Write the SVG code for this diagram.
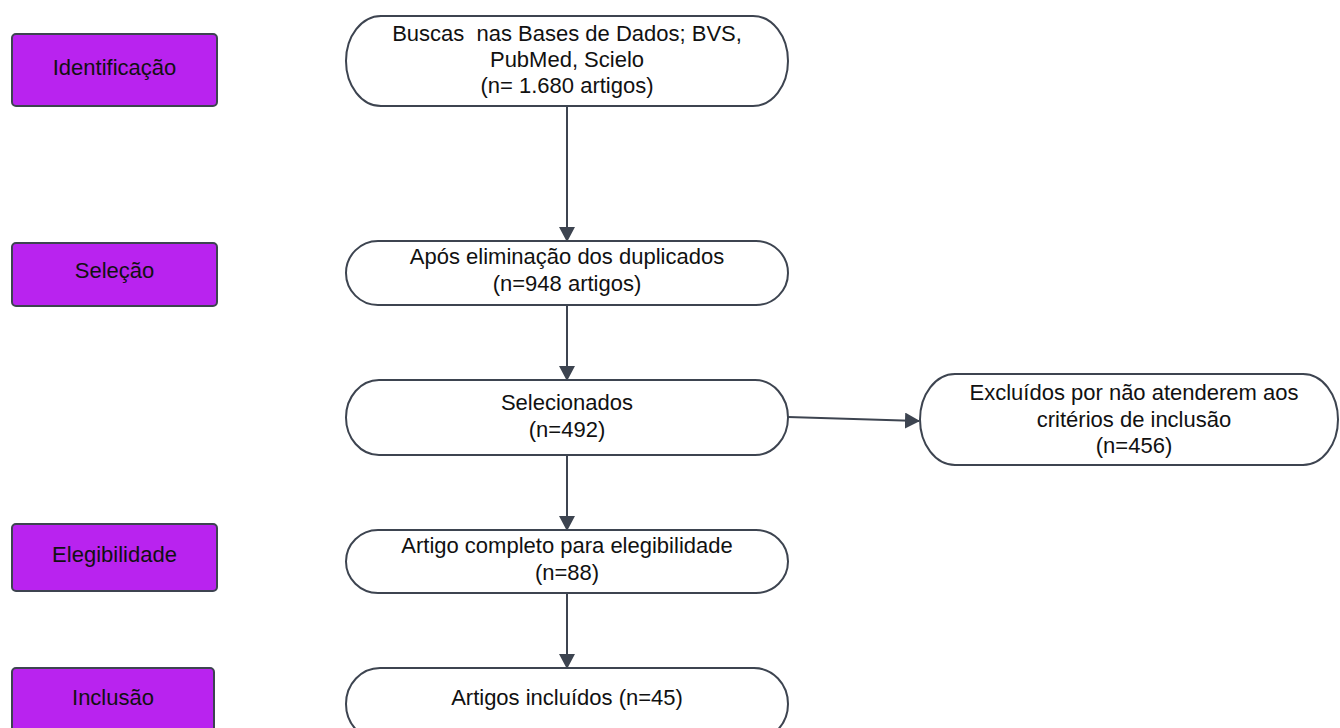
<svg xmlns="http://www.w3.org/2000/svg" width="1340" height="728" viewBox="0 0 1340 728">
<style>
.stage{fill:#b923ef;stroke:#3d4450;stroke-width:2}
.term{fill:#ffffff;stroke:#3d4450;stroke-width:2}
.t{font-family:"Liberation Sans",Arial,sans-serif;font-size:22px;fill:#111;text-anchor:middle}
.c{stroke:#3d4450;stroke-width:2;fill:none}
</style>
<defs>
<marker id="ah" markerWidth="16" markerHeight="16" refX="14" refY="8" orient="auto" markerUnits="userSpaceOnUse">
<path d="M0,0 L15,8 L0,16 Z" fill="#3d4450"/>
</marker>
</defs>
<rect width="1340" height="728" fill="#ffffff"/>

<g id="stage-identificacao">
<rect class="stage" x="12" y="34" width="205" height="72" rx="4"/>
<text class="t" x="114.5" y="75">Identificação</text>
</g>
<g id="stage-selecao">
<rect class="stage" x="12" y="243" width="205" height="63" rx="4"/>
<text class="t" x="114.5" y="278">Seleção</text>
</g>
<g id="stage-elegibilidade">
<rect class="stage" x="12" y="524" width="205" height="67" rx="4"/>
<text class="t" x="114.5" y="562">Elegibilidade</text>
</g>
<g id="stage-inclusao">
<rect class="stage" x="12" y="668" width="202" height="72" rx="4"/>
<text class="t" x="113" y="705">Inclusão</text>
</g>

<g id="node-buscas">
<path class="term" d="M381,16 H753 A35,45 0 0 1 753,106 H381 A35,45 0 0 1 381,16 Z"/>
<text class="t" x="567" y="41" xml:space="preserve">Buscas  nas Bases de Dados; BVS,</text>
<text class="t" x="567" y="67">PubMed, Scielo</text>
<text class="t" x="567" y="93">(n= 1.680 artigos)</text>
</g>
<g id="node-duplicados">
<path class="term" d="M378,241 H756 A32,32 0 0 1 756,305 H378 A32,32 0 0 1 378,241 Z"/>
<text class="t" x="567" y="264">Após eliminação dos duplicados</text>
<text class="t" x="567" y="291">(n=948 artigos)</text>
</g>
<g id="node-selecionados">
<path class="term" d="M379,380 H755 A33,37.5 0 0 1 755,455 H379 A33,37.5 0 0 1 379,380 Z"/>
<text class="t" x="567" y="410">Selecionados</text>
<text class="t" x="567" y="437">(n=492)</text>
</g>
<g id="node-excluidos">
<path class="term" d="M955,374 H1303 A35,45.5 0 0 1 1303,465 H955 A35,45.5 0 0 1 955,374 Z"/>
<text class="t" x="1134" y="400">Excluídos por não atenderem aos</text>
<text class="t" x="1134" y="427">critérios de inclusão</text>
<text class="t" x="1134" y="453">(n=456)</text>
</g>
<g id="node-elegibilidade">
<path class="term" d="M378,530 H756 A32,31.5 0 0 1 756,593 H378 A32,31.5 0 0 1 378,530 Z"/>
<text class="t" x="567" y="553">Artigo completo para elegibilidade</text>
<text class="t" x="567" y="580">(n=88)</text>
</g>
<g id="node-incluidos">
<path class="term" d="M380,668 H754 A34,36 0 0 1 754,740 H380 A34,36 0 0 1 380,668 Z"/>
<text class="t" x="567" y="705">Artigos incluídos (n=45)</text>
</g>

<g id="connectors">
<line class="c" x1="567" y1="106" x2="567" y2="241" marker-end="url(#ah)"/>
<line class="c" x1="567" y1="305" x2="567" y2="380" marker-end="url(#ah)"/>
<line class="c" x1="567" y1="455" x2="567" y2="530" marker-end="url(#ah)"/>
<line class="c" x1="567" y1="593" x2="567" y2="668" marker-end="url(#ah)"/>
<line class="c" x1="788" y1="417" x2="919" y2="421" marker-end="url(#ah)"/>
</g>
</svg>
